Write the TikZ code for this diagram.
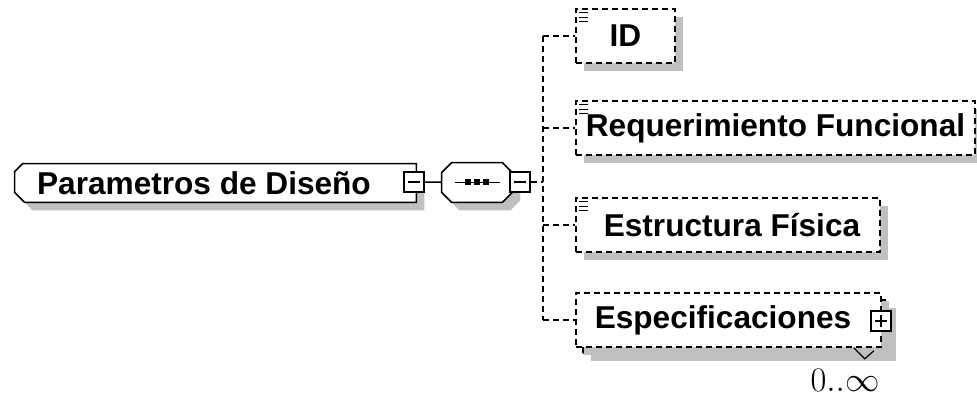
\documentclass[tikz,border=0pt]{standalone}
\usepackage{fontspec}
\setmainfont{Liberation Sans}
\usetikzlibrary{positioning,shadows,calc,backgrounds}

\definecolor{shadowgray}{RGB}{192,192,192}
\newcommand{\elemfont}{\fontsize{15.8bp}{19bp}\selectfont\bfseries}

\tikzset{
  boxshadow/.style={drop shadow={shadow xshift=4bp, shadow yshift=-4bp, fill=shadowgray, opacity=1}},
  outline/.style={draw, line width=0.8bp, fill=white, boxshadow},
  elembox/.style={draw, line width=0.8bp, fill=white, inner sep=0pt, font=\elemfont, boxshadow},
  optional/.style={elembox, dash pattern=on 3bp off 2bp, minimum height=27bp},
  toggle/.style={draw, line width=0.7bp, fill=white, minimum size=10bp, inner sep=0pt},
  minus/.style={toggle, path picture={
      \draw[line width=0.7bp] ([xshift=2bp]path picture bounding box.west) -- ([xshift=-2bp]path picture bounding box.east);}},
  plus/.style={toggle, path picture={
      \draw[line width=0.7bp] ([xshift=2bp]path picture bounding box.west) -- ([xshift=-2bp]path picture bounding box.east);
      \draw[line width=0.7bp] ([yshift=-2bp]path picture bounding box.north) -- ([yshift=2bp]path picture bounding box.south);}},
  link/.style={line width=0.8bp, dash pattern=on 3bp off 2bp},
}

% three short bars in the upper left corner of a simple-typed element
\newcommand{\simplemark}[1]{%
  \foreach \dy in {4.5,9,13.5}
    \draw[line width=0.6bp] ($(#1.north west)+(4,\dy)$) -- ++(9,0);}

\begin{document}
\begin{tikzpicture}[x=0.5bp,y=-0.5bp]
    \useasboundingbox (0,0) rectangle (977,397);

    % root element
    \node[font=\elemfont, inner sep=0pt, minimum width=200.5bp, minimum height=19bp] (main) at (215.5,183) {Parametros de Diseño\kern11.5bp};
    \node[minus] (maintog) at (414,182) {};

    % sequence
    \node[inner sep=0pt, minimum width=35bp, minimum height=19.5bp] (seq) at (477,182.5) {};
    \draw[line width=0.8bp] ([xshift=6.5bp]seq.west) -- ([xshift=-6bp]seq.east);
    \foreach \dx in {-9,0,9}
        \fill ([shift={(\dx-3,-3)}]seq.center) rectangle ++(6,6);
    \node[minus] (seqtog) at (520,182) {};
    \draw[line width=0.8bp] (maintog) -- (seq);

    % outlines of the two, behind their contents
    \begin{scope}[on background layer]
        \draw[outline] ($(main.north west)+(8,0)$) -- (main.north east) -- (main.south east)
            -- ($(main.south west)+(10,0)$) -- ($(main.south west)+(0,-10)$)
            -- ($(main.north west)+(0,8)$) -- cycle;
        \draw[outline] ($(seq.north west)+(10,0)$) -- ($(seq.north east)+(-10,0)$)
            -- ($(seq.north east)+(0,10)$) -- ($(seq.south east)+(0,-10)$)
            -- ($(seq.south east)+(-10,0)$) -- ($(seq.south west)+(10,0)$)
            -- ($(seq.south west)+(0,-10)$) -- ($(seq.north west)+(0,10)$) -- cycle;
    \end{scope}

    % children
    \node[optional, minimum width=49.5bp] (id) at (625.5,36) {ID};
    \node[optional, minimum width=199.5bp] (req) at (775.5,128) {Requerimiento Funcional};
    \node[optional, minimum width=152bp] (est) at (728,225) {\kern4bp Estructura Física};
    \node[optional, minimum width=152.5bp, minimum height=26.5bp] (specback) at (735.5,326.5) {};
    \node[optional, minimum width=152.5bp] (spec) at (728.5,320) {Especificaciones\kern5.5bp};
    \node[plus] (spectog) at (881,321) {};
    \draw[line width=0.6bp] ($(specback.south east)+(-35,-6)$) -- ++(11,11) -- ++(9,-8);
    \node[font=\fontsize{16bp}{18bp}\selectfont] (card) at (845,380) {$0..\infty$};

    \simplemark{id}
    \simplemark{req}
    \simplemark{est}

    % dashed branches
    \coordinate (bus) at (543,182);
    \draw[link] (seqtog) -- (bus);
    \draw[link] (bus |- id.west) -- (bus |- spec.west);
    \foreach \n in {id,req,est,spec}
        \draw[link] (bus |- \n.west) -- (\n.west);
\end{tikzpicture}
\end{document}
